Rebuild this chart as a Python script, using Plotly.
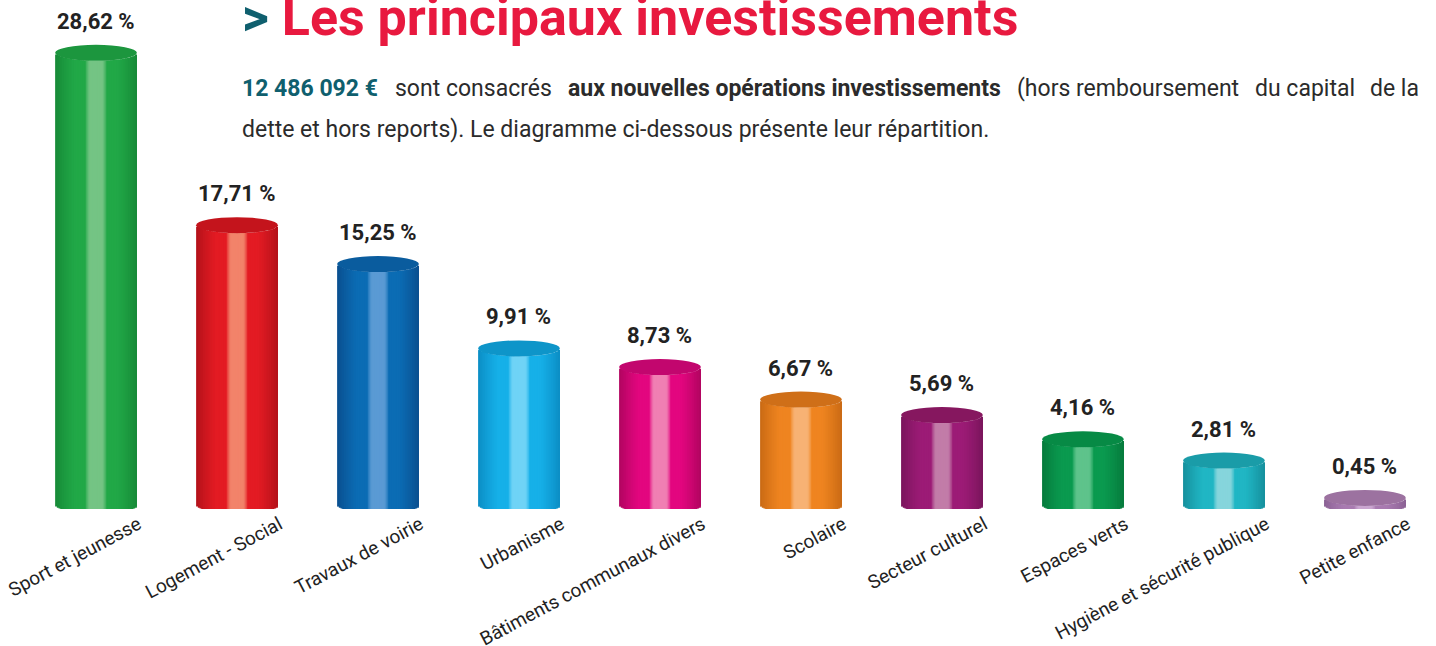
import numpy as np
import plotly.graph_objects as go

# ---------------- data ----------------
categories = ["Sport et jeunesse", "Logement - Social", "Travaux de voirie", "Urbanisme",
              "Bâtiments communaux divers", "Scolaire", "Secteur culturel", "Espaces verts",
              "Hygiène et sécurité publique", "Petite enfance"]
values = [28.62, 17.71, 15.25, 9.91, 8.73, 6.67, 5.69, 4.16, 2.81, 0.45]
value_labels = ["28,62 %", "17,71 %", "15,25 %", "9,91 %", "8,73 %", "6,67 %",
                "5,69 %", "4,16 %", "2,81 %", "0,45 %"]

body_colors = ["#21a847", "#e31b23", "#0b6cb4", "#16b0e8", "#e3067f",
               "#ef8420", "#9c1b76", "#0a9a4f", "#20b6c4", "#a97bb1"]
edge_colors = ["#178a37", "#b3121a", "#0a4f8f", "#0b8dc4", "#b0055f",
               "#c96a14", "#7a155c", "#067a3c", "#168f9c", "#8b6194"]
highlight_colors = ["#74c484", "#f2836a", "#5a9ad4", "#6fd3f6", "#f07fb3",
                    "#f7b274", "#c27ca8", "#5ec38b", "#86d5dc", "#caa6d0"]
top_colors = ["#1c963e", "#c4141c", "#0a5c9e", "#0e95c9", "#c2066e",
              "#cf6f18", "#86175f", "#078a45", "#1a9ca8", "#9c72a0"]

# intro paragraph, first line in justified segments (text, x px, anchor, style)
intro_line1 = [("12 486 092 €", 242, "left", "teal"),
               ("sont consacrés", 395, "left", ""),
               ("aux nouvelles opérations investissements", 568, "left", "b"),
               ("(hors remboursement", 1017, "left", ""),
               ("du capital", 1255, "left", ""),
               ("de la", 1419, "right", "")]
intro_line2 = "dette et hors reports). Le diagramme ci-dessous présente leur répartition."

# ---------------- geometry ----------------
W, H = 1436, 646
PLOT_BOTTOM_PX = 509
Y0_PX = 505
PX_PER_UNIT = 15.8
x_range = [-0.681, 9.504]
y_range = [(Y0_PX - PLOT_BOTTOM_PX) / PX_PER_UNIT, Y0_PX / PX_PER_UNIT]
bar_w = 0.58
cap = 8 / PX_PER_UNIT


def hex2rgb(h):
    h = h.lstrip("#")
    return np.array([int(h[i:i + 2], 16) for i in (0, 2, 4)], dtype=float)


def mix(a, b, f):
    return a * (1 - f) + b * f


def shade(i, t):
    mid = hex2rgb(body_colors[i])
    edge = hex2rgb(edge_colors[i])
    hi = hex2rgb(highlight_colors[i])
    a = abs(t)
    col = mid
    if a > 0.5:
        f = min(1.0, ((a - 0.5) / 0.5) ** 1.2)
        col = mix(mid, edge, f)
    h = float(np.clip((0.27 - a) / 0.1, 0, 1))
    col = mix(col, hi, h)
    return "rgb(%d,%d,%d)" % tuple(np.round(col).astype(int))


fig = go.Figure()
xs = list(range(len(categories)))
N = 48
sw = bar_w / N
for j in range(N):
    t = -1 + (2 * j + 1) / N
    dx = t * bar_w / 2
    s = np.sqrt(max(0.0, 1 - t * t))
    wj = sw * 2.0 if j < N - 1 else sw
    fig.add_trace(go.Bar(
        x=xs, y=values, base=-cap * s,
        offset=dx - sw / 2, width=wj,
        marker=dict(color=[shade(i, t) for i in xs], line=dict(width=0)),
        hoverinfo="skip", showlegend=False, cliponaxis=False,
    ))

shapes = []
for i, v in enumerate(values):
    shapes.append(dict(type="circle", xref="x", yref="y",
                       x0=i - bar_w / 2, x1=i + bar_w / 2, y0=v - cap, y1=v + cap,
                       fillcolor=top_colors[i], line=dict(width=0), layer="above"))

annotations = []
for i, v in enumerate(values):
    annotations.append(dict(x=i, y=v, xref="x", yref="y", text="<b>%s</b>" % value_labels[i],
                            showarrow=False, yanchor="bottom", yshift=17,
                            font=dict(family="Roboto", size=22, color="#222222"),
                            ))


def py(p):
    return (PLOT_BOTTOM_PX - p) / PLOT_BOTTOM_PX


def px(p):
    return p / W


annotations.append(dict(
    x=px(240), y=py(17), xref="paper", yref="paper", xanchor="left", yanchor="middle",
    showarrow=False,
    text="<b><span style='color:#0f5f6e'>&gt;</span> Les principaux investissements</b>",
    font=dict(family="Roboto", size=52, color="#e8193f")))

for seg, sx, anchor, style in intro_line1:
    if style == "teal":
        txt = "<b><span style='color:#0f5f6e'>%s</span></b>" % seg
    elif style == "b":
        txt = "<b>%s</b>" % seg
    else:
        txt = seg
    annotations.append(dict(
        x=px(sx - 2 if anchor == "left" else sx + 2), y=py(89), xref="paper", yref="paper",
        xanchor=anchor, yanchor="middle", showarrow=False, text=txt,
        font=dict(family="Roboto", size=23, color="#2b2b2b")))

annotations.append(dict(
    x=px(240), y=py(129), xref="paper", yref="paper", xanchor="left", yanchor="middle",
    showarrow=False, text=intro_line2,
    font=dict(family="Roboto", size=23, color="#2b2b2b")))

fig.update_layout(
    width=W, height=H,
    margin=dict(l=0, r=0, t=0, b=H - PLOT_BOTTOM_PX, pad=0, autoexpand=False),
    paper_bgcolor="white", plot_bgcolor="white",
    barmode="overlay", showlegend=False, hovermode=False,
    shapes=shapes, annotations=annotations,
    xaxis=dict(range=x_range, showgrid=False, zeroline=False, showline=False, automargin=False,
               tickmode="array", tickvals=[i + 0.3 for i in xs], ticktext=categories,
               tickangle=-28, ticks="", tickfont=dict(family="Roboto", size=19, color="#222222")),
    yaxis=dict(range=y_range, visible=False, showgrid=False, zeroline=False, automargin=False),
)

fig.write_html("out.html", config={"displayModeBar": False},
               post_script="document.body.style.margin='0';")
